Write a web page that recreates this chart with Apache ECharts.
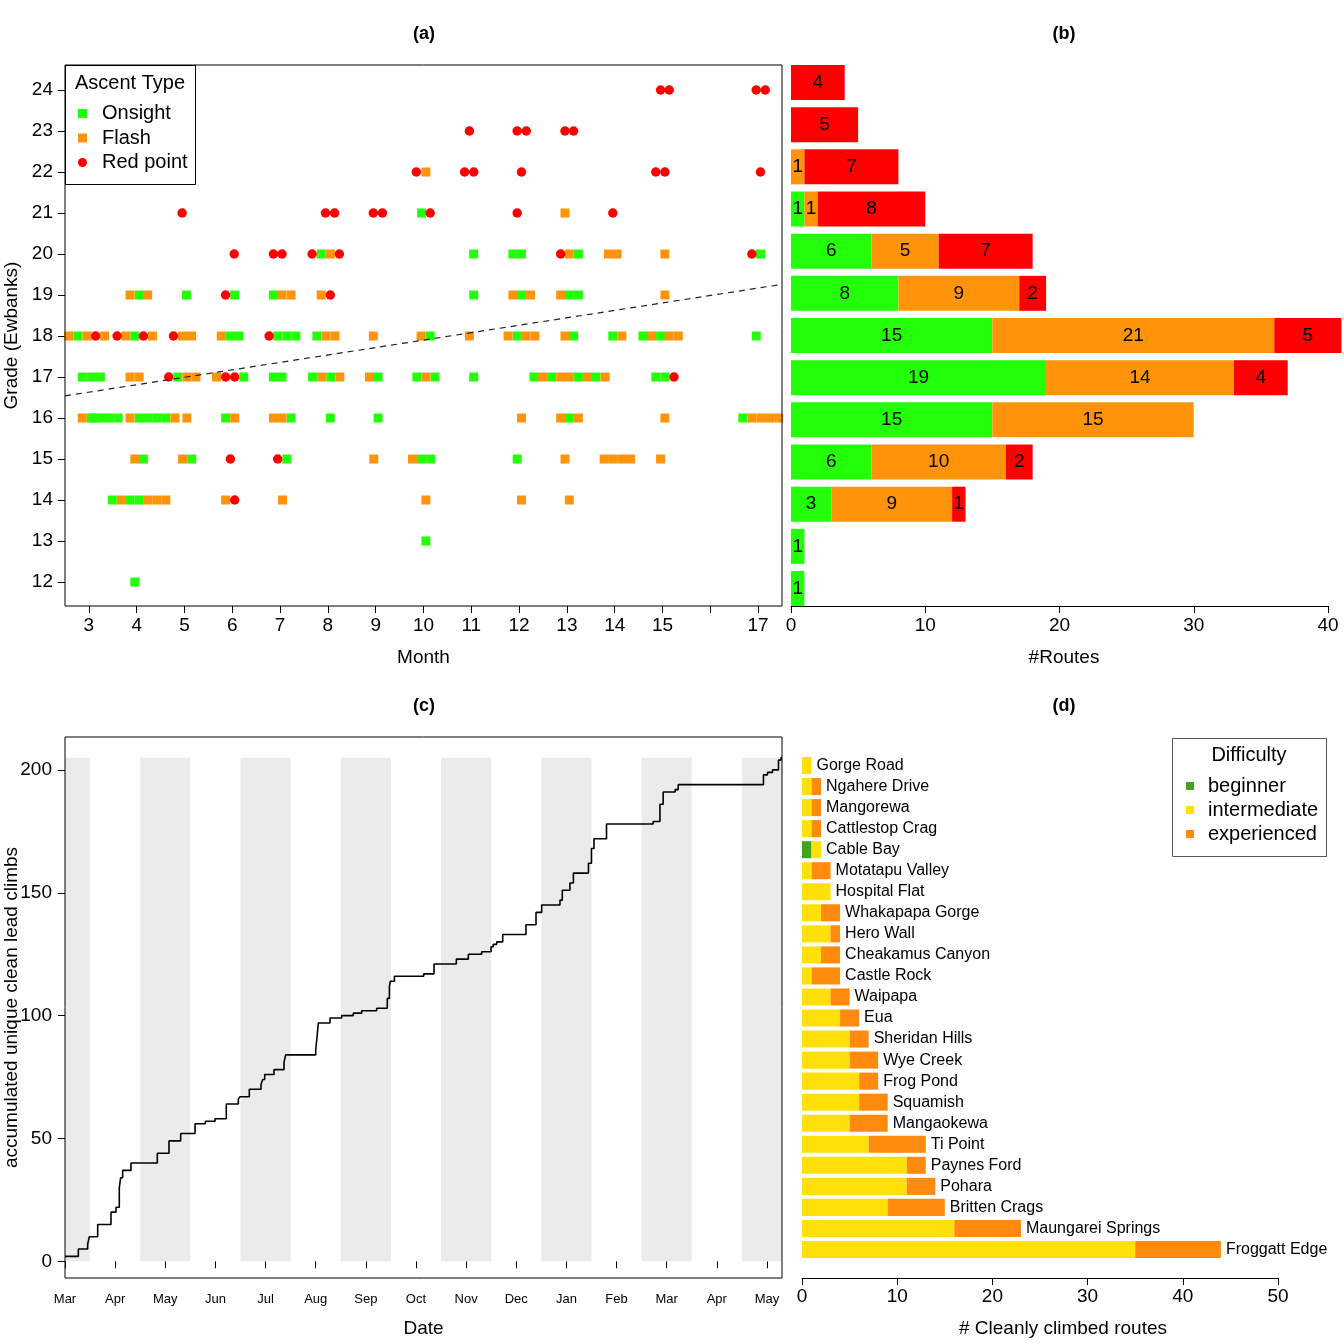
<!DOCTYPE html>
<html><head><meta charset="utf-8">
<script src="https://cdn.jsdelivr.net/npm/echarts/dist/echarts.min.js"></script>
<style>html,body{margin:0;padding:0;background:#fff}#c{width:1344px;height:1344px}</style>
</head><body><div id="c"></div>
<script>
// ---------- Panel (a): ascents by month and grade ----------
const onsightPts = [
  [9.96,21],
  [7.86,20],[11.05,20],[11.87,20],[12.05,20],[13.24,20],[17.05,20],
  [4.05,19],[5.04,19],[6.05,19],[6.86,19],[11.05,19],[12.05,19],[13.05,19],[13.24,19],
  [2.77,18],[3.96,18],[5.96,18],[6.14,18],[6.95,18],[7.14,18],[7.33,18],[7.77,18],[10.14,18],[11.96,18],[13.14,18],[13.96,18],[14.59,18],[14.96,18],[16.96,18],
  [2.86,17],[3.05,17],[3.24,17],[4.86,17],[6.24,17],[6.86,17],[7.04,17],[7.68,17],[8.06,17],[9.05,17],[9.86,17],[10.24,17],[11.05,17],[12.31,17],[12.68,17],[13.24,17],[13.61,17],[14.86,17],[15.05,17],
  [3.05,16],[3.10,16],[3.24,16],[3.42,16],[3.61,16],[4.05,16],[4.23,16],[4.42,16],[4.61,16],[5.86,16],[7.23,16],[8.05,16],[9.05,16],[13.05,16],[16.68,16],
  [4.14,15],[5.15,15],[7.14,15],[9.96,15],[10.15,15],[11.96,15],
  [3.49,14],[3.86,14],[4.05,14],
  [10.05,13],
  [3.96,12]
];
const flashPts = [
  [10.05,22],
  [12.96,21],
  [8.05,20],[13.05,20],[13.87,20],[14.05,20],[15.05,20],
  [3.86,19],[4.23,19],[7.04,19],[7.23,19],[7.86,19],[11.87,19],[12.24,19],[12.87,19],[15.05,19],
  [2.58,18],[2.96,18],[3.33,18],[3.77,18],[4.33,18],[4.96,18],[5.15,18],[5.77,18],[7.96,18],[8.15,18],[8.95,18],[9.95,18],[10.96,18],[11.77,18],[12.14,18],[12.33,18],[12.96,18],[14.15,18],[14.77,18],[15.14,18],[15.33,18],
  [3.86,17],[4.05,17],[5.05,17],[5.24,17],[5.67,17],[7.87,17],[8.25,17],[8.87,17],[10.05,17],[12.49,17],[12.87,17],[13.05,17],[13.43,17],[13.80,17],
  [2.86,16],[3.86,16],[4.80,16],[5.05,16],[6.05,16],[6.86,16],[7.04,16],[12.05,16],[12.87,16],[13.24,16],[15.05,16],[16.87,16],[17.06,16],[17.24,16],[17.43,16],
  [3.96,15],[4.96,15],[8.96,15],[9.77,15],[12.96,15],[13.78,15],[13.96,15],[14.15,15],[14.33,15],[14.96,15],
  [3.68,14],[4.23,14],[4.42,14],[4.61,14],[5.86,14],[7.05,14],[10.05,14],[12.05,14],[13.05,14]
];
const redPts = [
  [14.96,24],[15.14,24],[16.96,24],[17.15,24],
  [10.96,23],[11.96,23],[12.15,23],[12.96,23],[13.14,23],
  [9.85,22],[10.86,22],[11.05,22],[12.05,22],[14.86,22],[15.05,22],[17.05,22],
  [4.95,21],[7.95,21],[8.14,21],[8.95,21],[9.14,21],[10.14,21],[11.96,21],[13.96,21],
  [6.04,20],[6.86,20],[7.04,20],[7.67,20],[8.24,20],[12.87,20],[16.87,20],
  [5.86,19],[8.05,19],
  [3.14,18],[3.59,18],[4.14,18],[4.77,18],[6.77,18],
  [4.67,17],[5.86,17],[6.05,17],[15.24,17],
  [5.96,15],[6.95,15],
  [6.05,14]
];
const trendLine = [[2.5,16.54],[17.5,19.26]];
const monthTicks = [3,4,5,6,7,8,9,10,11,12,13,14,15,16,17];
const monthLabels = [3,4,5,6,7,8,9,10,11,12,13,14,15,17];
const gradeTicks = [12,13,14,15,16,17,18,19,20,21,22,23,24];

// ---------- Panel (b): routes per grade ----------
const grades = ['12','13','14','15','16','17','18','19','20','21','22','23','24'];
const onsightCount = [1,1,3,6,15,19,15,8,6,1,0,0,0];
const flashCount   = [0,0,9,10,15,14,21,9,5,1,1,0,0];
const redCount     = [0,0,1,2,0,4,5,2,7,8,7,5,4];

// ---------- Panel (c): accumulated climbs ----------
const dateLabels = ['Mar','Apr','May','Jun','Jul','Aug','Sep','Oct','Nov','Dec','Jan','Feb','Mar','Apr','May'];
const dateTicks = [0,1,2,3,4,5,6,7,8,9,10,11,12,13,14];
const cumulative = [
  [0,2],[0.266,5],[0.452,7],[0.485,10],[0.652,15],[0.917,20],[1.017,22],[1.083,30],[1.11,34],[1.15,37],
  [1.316,40],[1.841,44],[2.074,49],[2.307,52],[2.593,56],[2.799,57],[2.992,58],[3.217,64],[3.457,66],[3.49,67],
  [3.676,70],[3.909,72],[3.943,74],[3.983,76],[4.168,78],[4.368,81],[4.401,84],[5.0,86],[5.03,92],[5.052,97],
  [5.285,99],[5.518,100],[5.75,101],[5.917,102],[6.216,103],[6.428,107],[6.47,112],[6.49,114],[6.57,116],
  [7.154,117],[7.36,121],[7.805,123],[8.044,125],[8.31,126],[8.497,128],[8.54,129],[8.61,130],[8.73,133],
  [9.194,137],[9.394,142],[9.507,145],[9.872,147],[9.918,151],[10.07,154],[10.14,158],[10.44,162],[10.5,168],
  [10.55,172],[10.8,178],[11.73,179],[11.866,186],[11.93,191],[12.17,192],[12.23,194],[13.93,198],[14.01,199],
  [14.11,200],[14.23,204],[14.28,205],[14.3,205]
];
const shadeBands = [[0,0.5],[1.5,2.5],[3.5,4.5],[5.5,6.5],[7.5,8.5],[9.5,10.5],[11.5,12.5],[13.5,14.3]];
const shadeTop = 205;

// ---------- Panel (d): crags ----------
const crags = ['Gorge Road','Ngahere Drive','Mangorewa','Cattlestop Crag','Cable Bay','Motatapu Valley','Hospital Flat',
  'Whakapapa Gorge','Hero Wall','Cheakamus Canyon','Castle Rock','Waipapa','Eua','Sheridan Hills','Wye Creek','Frog Pond',
  'Squamish','Mangaokewa','Ti Point','Paynes Ford','Pohara','Britten Crags','Maungarei Springs','Froggatt Edge'];
const beginner     = [0,0,0,0,1,0,0,0,0,0,0,0,0,0,0,0,0,0,0,0,0,0,0,0];
const intermediate = [1,1,1,1,1,1,3,2,3,2,1,3,4,5,5,6,6,5,7,11,11,9,16,35];
const experienced  = [0,1,1,1,0,2,0,2,1,2,3,2,2,2,3,2,3,4,6,2,3,6,7,9];

// ---------- styling ----------
const FONT = 'Liberation Sans, Arial, Helvetica, sans-serif';
const C_ON = '#22ff08', C_FL = '#ff940a', C_RP = '#ff0000';
const C_BEG = '#43a21f', C_INT = '#ffe00a', C_EXP = '#ff8a0e';
const tickStyle = {show:true, length:7, lineStyle:{color:'#000', width:1}};
const lbl = (size, margin) => ({color:'#000', fontSize:size, margin:margin, fontFamily:FONT});
const G = {containLabel:false, outerBoundsMode:'none'};

const chart = echarts.init(document.getElementById('c'), null, {renderer:'canvas'});
const option = {
  animation:false,
  backgroundColor:'#fff',
  textStyle:{fontFamily:FONT, color:'#000'},
  grid:[
    Object.assign({left:65, top:65, width:717, height:541, show:true, borderColor:'#000', borderWidth:1, backgroundColor:'transparent', z:10}, G),
    Object.assign({left:791, top:61.4, width:537, height:548.2, show:false}, G),
    Object.assign({left:65, top:737, width:717, height:541, show:true, borderColor:'#000', borderWidth:1, backgroundColor:'transparent', z:10}, G),
    Object.assign({left:802, top:755, width:476, height:505, show:false}, G)
  ],
  xAxis:[
    {gridIndex:0, type:'value', min:2.5, max:17.5, axisLine:{show:false}, splitLine:{show:false},
     axisTick:Object.assign({customValues:monthTicks}, tickStyle),
     axisLabel:Object.assign({customValues:monthLabels}, lbl(19,10)),
     name:'Month', nameLocation:'middle', nameGap:42, nameMoveOverlap:false, nameTextStyle:{fontSize:19, color:'#000'}},
    {gridIndex:1, type:'value', min:0, max:40, interval:10, offset:-3.6,
     axisLine:{show:true, lineStyle:{color:'#000', width:1}}, splitLine:{show:false},
     axisTick:tickStyle, axisLabel:lbl(19,10),
     name:'#Routes', nameLocation:'middle', nameGap:42, nameMoveOverlap:false, nameTextStyle:{fontSize:19, color:'#000', padding:[0,0,0,9]}},
    {gridIndex:2, type:'value', min:0, max:14.3, axisLine:{show:false}, splitLine:{show:false},
     axisTick:Object.assign({customValues:dateTicks}, tickStyle),
     axisLabel:Object.assign({customValues:dateTicks, formatter:v => dateLabels[Math.round(v)]}, lbl(13,15)),
     name:'Date', nameLocation:'middle', nameGap:41, nameMoveOverlap:false, nameTextStyle:{fontSize:19, color:'#000'}},
    {gridIndex:3, type:'value', min:0, max:50, interval:10, offset:18,
     axisLine:{show:true, lineStyle:{color:'#000', width:1}}, splitLine:{show:false},
     axisTick:tickStyle, axisLabel:lbl(19,9),
     name:'# Cleanly climbed routes', nameLocation:'middle', nameGap:41, nameMoveOverlap:false, nameTextStyle:{fontSize:19, color:'#000', padding:[0,0,0,46]}}
  ],
  yAxis:[
    {gridIndex:0, type:'value', min:11.415, max:24.61, axisLine:{show:false}, splitLine:{show:false},
     axisTick:Object.assign({customValues:gradeTicks}, tickStyle),
     axisLabel:Object.assign({customValues:gradeTicks}, lbl(19,12)),
     name:'Grade (Ewbanks)', nameLocation:'middle', nameGap:44, nameMoveOverlap:false, nameRotate:90, nameTextStyle:{fontSize:19, color:'#000'}},
    {gridIndex:1, type:'category', data:grades, axisLine:{show:false}, axisTick:{show:false}, axisLabel:{show:false}},
    {gridIndex:2, type:'value', min:-6.8, max:213.4, axisLine:{show:false}, splitLine:{show:false},
     axisTick:Object.assign({customValues:[0,50,100,150,200]}, tickStyle),
     axisLabel:Object.assign({customValues:[0,50,100,150,200]}, lbl(19,13)),
     name:'accumulated unique clean lead climbs', nameLocation:'middle', nameGap:44, nameMoveOverlap:false, nameRotate:90, nameTextStyle:{fontSize:19, color:'#000'}},
    {gridIndex:3, type:'category', data:crags, inverse:true, axisLine:{show:false}, axisTick:{show:false}, axisLabel:{show:false}}
  ],
  legend:[
    {left:78, top:103.5, orient:'vertical', padding:0, itemWidth:9, itemHeight:9, itemGap:4.5,
     data:[{name:'Onsight', icon:'rect'},{name:'Flash', icon:'rect'},{name:'Red point', icon:'circle'}],
     textStyle:{fontSize:20, lineHeight:20, color:'#000', padding:[0,0,0,10]}, selectedMode:false, z:30},
    {left:1186, top:776, orient:'vertical', padding:0, itemWidth:8, itemHeight:8, itemGap:4,
     data:[{name:'beginner', icon:'rect'},{name:'intermediate', icon:'rect'},{name:'experienced', icon:'rect'}],
     textStyle:{fontSize:20, lineHeight:20, color:'#000', padding:[0,0,0,9]}, selectedMode:false, z:30}
  ],
  graphic:[
    {type:'rect', z:20, shape:{x:65.5, y:65.5, width:130, height:119}, style:{fill:'#fff', stroke:'#000', lineWidth:1}},
    {type:'text', z:21, x:75, y:83.5, style:{text:'Ascent Type', fontSize:20, fontFamily:FONT, fill:'#000', textVerticalAlign:'middle'}},
    {type:'rect', z:20, shape:{x:1172.5, y:738.5, width:154, height:118}, style:{fill:'#fff', stroke:'#555', lineWidth:1}},
    {type:'text', z:21, x:1249, y:755, style:{text:'Difficulty', fontSize:20, fontFamily:FONT, fill:'#000', textAlign:'center', textVerticalAlign:'middle'}},
    {type:'text', z:21, x:424, y:34, style:{text:'(a)', fontSize:18, fontWeight:'bold', fontFamily:FONT, fill:'#000', textAlign:'center', textVerticalAlign:'middle'}},
    {type:'text', z:21, x:1064, y:34, style:{text:'(b)', fontSize:18, fontWeight:'bold', fontFamily:FONT, fill:'#000', textAlign:'center', textVerticalAlign:'middle'}},
    {type:'text', z:21, x:424, y:706, style:{text:'(c)', fontSize:18, fontWeight:'bold', fontFamily:FONT, fill:'#000', textAlign:'center', textVerticalAlign:'middle'}},
    {type:'text', z:21, x:1064, y:706, style:{text:'(d)', fontSize:18, fontWeight:'bold', fontFamily:FONT, fill:'#000', textAlign:'center', textVerticalAlign:'middle'}}
  ],
  series:[
    {name:'Onsight', type:'scatter', xAxisIndex:0, yAxisIndex:0, symbol:'rect', symbolSize:9, itemStyle:{color:C_ON, opacity:1}, data:onsightPts, z:3},
    {name:'Flash', type:'scatter', xAxisIndex:0, yAxisIndex:0, symbol:'rect', symbolSize:9, itemStyle:{color:C_FL, opacity:1}, data:flashPts, z:3},
    {name:'Red point', type:'scatter', xAxisIndex:0, yAxisIndex:0, symbol:'circle', symbolSize:9.5, itemStyle:{color:C_RP, opacity:1}, data:redPts, z:3},
    {name:'trend', type:'line', xAxisIndex:0, yAxisIndex:0, data:trendLine, symbol:'none', z:5,
     lineStyle:{color:'#222', width:1.2, type:[6,5]}},
    {name:'Onsight', type:'bar', xAxisIndex:1, yAxisIndex:1, stack:'b', data:onsightCount, barCategoryGap:'17%', clip:false,
     itemStyle:{color:C_ON},
     label:{show:true, position:'inside', color:'#000', fontSize:19, formatter:p => p.value > 0 ? p.value : ''}},
    {name:'Flash', type:'bar', xAxisIndex:1, yAxisIndex:1, stack:'b', data:flashCount, barCategoryGap:'17%', clip:false,
     itemStyle:{color:C_FL},
     label:{show:true, position:'inside', color:'#000', fontSize:19, formatter:p => p.value > 0 ? p.value : ''}},
    {name:'Red point', type:'bar', xAxisIndex:1, yAxisIndex:1, stack:'b', data:redCount, barCategoryGap:'17%', clip:false,
     itemStyle:{color:C_RP},
     label:{show:true, position:'inside', color:'#000', fontSize:19, formatter:p => p.value > 0 ? p.value : ''}},
    {name:'bands', type:'line', xAxisIndex:2, yAxisIndex:2, data:[], z:1, silent:true,
     markArea:{silent:true, itemStyle:{color:'#ebebeb'},
       data:shadeBands.map(b => [{xAxis:b[0], yAxis:0}, {xAxis:b[1], yAxis:shadeTop}])}},
    {name:'cumulative', type:'line', xAxisIndex:2, yAxisIndex:2, data:cumulative, step:'end', symbol:'none', z:4,
     lineStyle:{color:'#000', width:1.6}},
    {name:'beginner', type:'bar', xAxisIndex:3, yAxisIndex:3, stack:'d', data:beginner, barCategoryGap:'19%', itemStyle:{color:C_BEG}},
    {name:'intermediate', type:'bar', xAxisIndex:3, yAxisIndex:3, stack:'d', data:intermediate, barCategoryGap:'19%', itemStyle:{color:C_INT}},
    {name:'experienced', type:'bar', xAxisIndex:3, yAxisIndex:3, stack:'d', data:experienced, barCategoryGap:'19%', itemStyle:{color:C_EXP},
     label:{show:true, position:'right', distance:5, color:'#000', fontSize:16, formatter:p => p.name}}
  ]
};
chart.setOption(option);
</script>
</body></html>
